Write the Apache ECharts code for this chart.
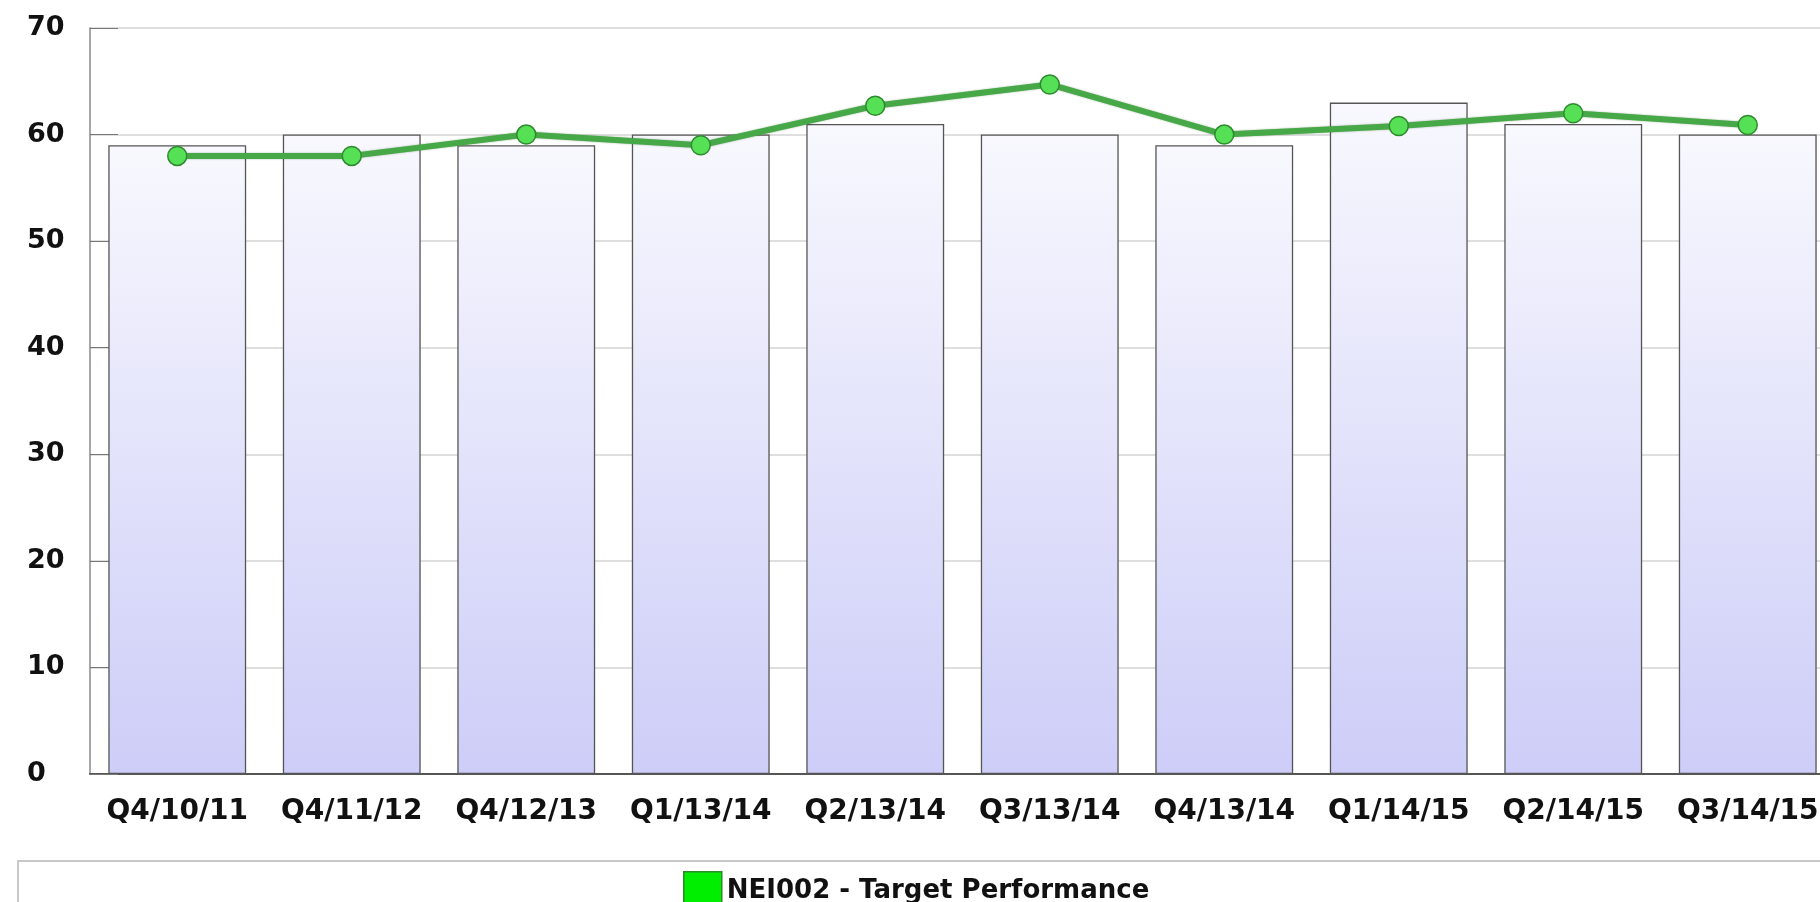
<!DOCTYPE html>
<html>
<head>
<meta charset="utf-8">
<script src="https://cdn.jsdelivr.net/npm/echarts@6/dist/echarts.min.js"></script>
<style>
  html, body { margin: 0; padding: 0; overflow: hidden; background: #fff; }
  #mycharts { width: 1850px; height: 902px; }
</style>
</head>
<body>
<div id="mycharts"></div>
<script>
const categories = ['Q4/10/11', 'Q4/11/12', 'Q4/12/13', 'Q1/13/14', 'Q2/13/14',
  'Q3/13/14', 'Q4/13/14', 'Q1/14/15', 'Q2/14/15', 'Q3/14/15'];
const barValues = [59, 60, 59, 60, 61, 60, 59, 63, 61, 60];
const lineValues = [58, 58, 60, 59, 62.7, 64.7, 60, 60.8, 62, 60.9];
const yTicks = [0, 10, 20, 30, 40, 50, 60, 70];
const lineName = 'NEI002 - Target Performance';

const labelFont = '"DejaVu Sans", Verdana, sans-serif';

let myCharts = echarts.init(document.getElementById('mycharts'));
myCharts.setOption({
  animation: false,
  graphic: [{
    type: 'rect',
    left: 17, top: 860,
    shape: { width: 1850, height: 100 },
    style: { fill: '#fff', stroke: '#c8c8c8', lineWidth: 2 },
    z: -1
  }],
  legend: {
    left: 678, top: 866,
    itemWidth: 38, itemHeight: 38, itemGap: 8,
    data: [{
      name: lineName,
      icon: 'rect',
      itemStyle: { color: '#00ee00', borderColor: '#2a8a2a', borderWidth: 1.5 }
    }],
    textStyle: { fontFamily: labelFont, fontWeight: 'bold', fontSize: 26, color: '#111' }
  },
  grid: { left: 90, top: 28, width: 1745, height: 746 },
  xAxis: {
    type: 'category',
    data: categories,
    axisLine: { lineStyle: { color: '#555', width: 2 } },
    axisTick: { inside: true, length: 27, lineStyle: { color: '#bbb' } },
    axisLabel: {
      interval: 0, margin: 24,
      fontFamily: labelFont, fontWeight: 'bold', fontSize: 28, color: '#111'
    }
  },
  yAxis: {
    type: 'value',
    min: yTicks[0], max: yTicks[yTicks.length - 1], interval: 10,
    axisLine: { show: true, lineStyle: { color: '#888', width: 1.5 } },
    axisTick: { show: true, inside: true, length: 28, lineStyle: { color: '#777' } },
    splitLine: { lineStyle: { color: '#d4d4d4', width: 1.5 } },
    axisLabel: {
      margin: 63, align: 'left',
      fontFamily: labelFont, fontWeight: 'bold', fontSize: 27, color: '#111'
    }
  },
  series: [{
    type: 'bar',
    data: barValues,
    barCategoryGap: '21%',
    itemStyle: {
      color: new echarts.graphic.LinearGradient(0, 0, 0, 1, [
        { offset: 0, color: '#f8f8fe' },
        { offset: 1, color: '#cdcdf8' }
      ]),
      borderColor: '#555',
      borderWidth: 1.3
    },
    legendHoverLink: false
  }, {
    type: 'line',
    name: lineName,
    data: lineValues,
    symbol: 'circle',
    symbolSize: 19,
    lineStyle: { color: '#46a846', width: 6, shadowColor: 'rgba(0,60,0,0.35)', shadowBlur: 2 },
    itemStyle: { color: '#55e055', borderColor: '#2f8a2f', borderWidth: 1.5 },
    z: 5
  }]
});
</script>
</body>
</html>
